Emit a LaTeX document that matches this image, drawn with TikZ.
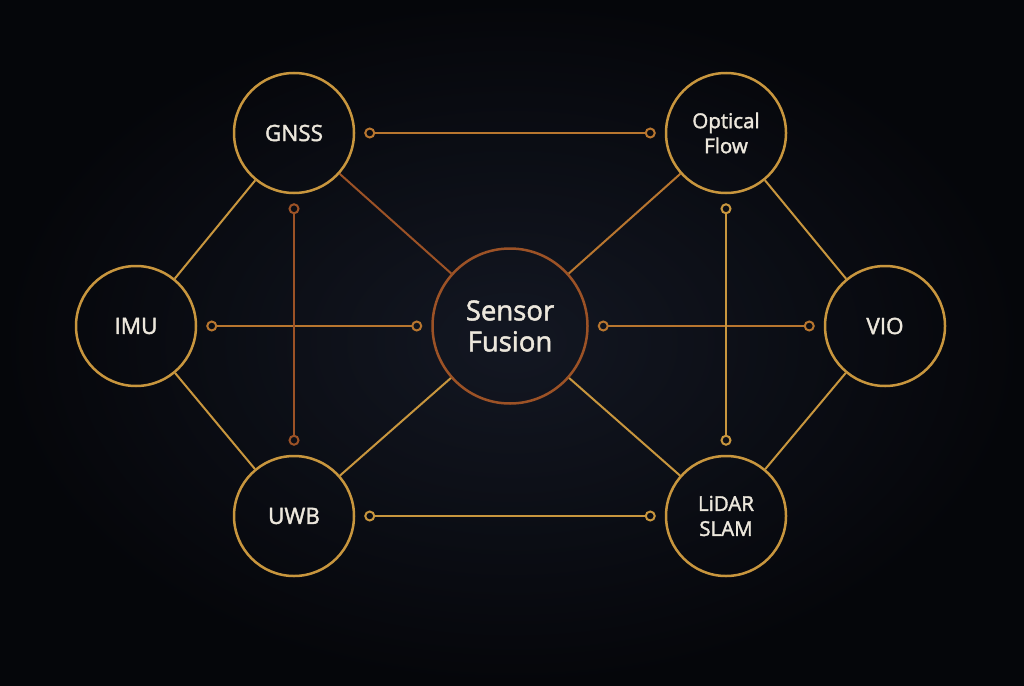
\documentclass[tikz,border=0pt]{standalone}
\usepackage{fontspec}
\setmainfont{Open Sans}[FakeBold=1.8]
\usetikzlibrary{arrows.meta}
\definecolor{bgin}{HTML}{131722}
\definecolor{bgout}{HTML}{05060A}
\definecolor{gold}{HTML}{C8963E}
\definecolor{rust}{HTML}{9C5226}
\definecolor{amber}{HTML}{B8762F}
\definecolor{chalk}{HTML}{ECE7DC}
\begin{document}
\begin{tikzpicture} [
                x=1pt, y=-1pt,
                sensor/.style={circle,draw=gold,line width=2.5pt,minimum size=120pt,inner sep=0pt,text=chalk,align=center},
                hub/.style={sensor,draw=rust,minimum size=155pt,font=\fontsize{27.5}{31}\selectfont},
                link/.style = {draw,line width=2pt,-},
                port/.style = {link,shorten <=9pt,shorten >=9pt,
                    {Circle[open,length=11pt,width=11pt]}-{Circle[open,length=11pt,width=11pt]}},
            ]
            \shade[inner color=bgin,outer color=bgout] (0,0) rectangle (1024,685);
            \useasboundingbox (0,0) rectangle (1024,685);
            \node[hub] (sf) at (510,326) {Sensor\\Fusion};
            \foreach \pos/\name/\txt/\sz in {
            {(294,133)/gnss/GNSS/22.5}, {(726,133)/of/{Optical\\Flow}/20.5}, {(136,326)/imu/IMU/22.5},
            {(885,326)/vio/VIO/22.5}, {(294,516)/uwb/UWB/22.5}, {(726,516)/lidar/{LiDAR\\SLAM}/20.5}}
                \node[sensor,font=\fontsize{\sz}{25}\selectfont] (\name) at \pos {\txt};
            \foreach \source/ \dest/\col in {
                    gnss/imu/gold,gnss/sf/rust,imu/uwb/gold,uwb/sf/gold,
                    sf/of/amber,sf/lidar/gold,of/vio/gold,vio/lidar/gold}
                \path[link,\col] (\source) -- (\dest);
            \foreach \source/ \dest/\col in {
                    gnss/of/amber,imu/sf/amber,sf/vio/amber,uwb/lidar/gold,
                    gnss/uwb/rust,of/lidar/gold}
                \path[port,\col] (\source) -- (\dest);
        \end{tikzpicture}
\end{document}
